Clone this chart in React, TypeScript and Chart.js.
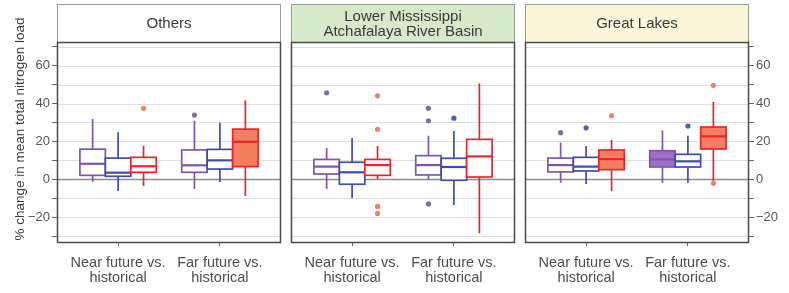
import React, { useEffect, useRef } from "react";
import { Chart, registerables } from "chart.js";

Chart.register(...registerables);

// ---------- data ----------
const panelTitles = [["Others"], ["Lower Mississippi", "Atchafalaya River Basin"], ["Great Lakes"]];
const periodLabels = [["Near future vs.", "historical"], ["Far future vs.", "historical"]];
const seriesNames = ["Series 1", "Series 2", "Series 3"];
const yTickValues = [-30, -20, -10, 0, 10, 20, 30, 40, 50, 60, 70];
const yLabelledValues = [-20, 0, 20, 40, 60];
const yTitle = "% change in mean total nitrogen load";

// [lower whisker, q1, median, q3, upper whisker] for [near, far]
const othersPurple = [[-1.3, 2.1, 8.2, 15.9, 31.8], [-5.1, 3.7, 7.4, 15.5, 30.9]];
const othersBlue = [[-6.2, 1.6, 3.5, 11.2, 24.8], [-1.4, 5.4, 10.0, 15.8, 29.9]];
const othersRed = [[-3.5, 3.7, 6.9, 11.6, 17.7], [-8.8, 6.7, 19.8, 26.5, 41.8]];
const lmarbPurple = [[-5.1, 2.8, 6.7, 10.5, 16.5], [-0.4, 2.3, 7.5, 12.5, 23.0]];
const lmarbBlue = [[-9.9, -2.6, 3.7, 9.0, 21.8], [-13.6, -0.5, 6.5, 11.1, 25.5]];
const lmarbRed = [[0.2, 2.1, 7.5, 10.5, 17.6], [-28.5, 1.2, 12.1, 21.1, 50.6]];
const greatLakesPurple = [[-1.8, 3.9, 7.5, 11.2, 19.3], [-1.8, 6.5, 10.5, 15.1, 25.8]];
const greatLakesBlue = [[-2.5, 4.4, 6.7, 11.6, 17.6], [-1.8, 6.5, 9.5, 13.2, 23.0]];
const greatLakesRed = [[-6.2, 5.1, 10.7, 15.5, 20.7], [-1.3, 16.0, 22.7, 27.6, 40.8]];

// outliers for [near, far]
const othersPurpleOut = [[], [33.9]];
const othersBlueOut = [[], []];
const othersRedOut = [[37.5], []];
const lmarbPurpleOut = [[45.7], [37.5, 30.9, -13.0]];
const lmarbBlueOut = [[], [32.3]];
const lmarbRedOut = [[44.1, 26.4, -14.3, -18.0], []];
const greatLakesPurpleOut = [[24.6], []];
const greatLakesBlueOut = [[27.2], [28.1]];
const greatLakesRedOut = [[33.6], [49.6, -2.1]];

const panelStats = [
  [othersPurple, othersBlue, othersRed],
  [lmarbPurple, lmarbBlue, lmarbRed],
  [greatLakesPurple, greatLakesBlue, greatLakesRed],
];
const panelOutliers = [
  [othersPurpleOut, othersBlueOut, othersRedOut],
  [lmarbPurpleOut, lmarbBlueOut, lmarbRedOut],
  [greatLakesPurpleOut, greatLakesBlueOut, greatLakesRedOut],
];

// ---------- style ----------
const FONT = "'Liberation Sans', Arial, Helvetica, sans-serif";
const strokeColors = ["#7e56ae", "#3d4da9", "#e8262b"];
const fillColors = ["#9d70c6", "#6f7cc4", "#f47e5f"];
const outlierColors = ["#8468a8", "#5060aa", "#f0816b"];
const filledBoxes = ["0-2-1", "2-2-0", "2-0-1", "2-2-1"]; // panel-series-period
const headerFills = ["#ffffff", "#d6e9c9", "#fbf7db"];
const panelSpan = 2.2;
const panelGap = 0.0982;
const xStart = 0.4;
const dodge = 0.25;
const boxWidth = 0.25;
const headerTop = 4;

const panelStart = (k: number) => xStart + k * (panelSpan + panelGap);
const xFor = (k: number, p: number, s: number) => panelStart(k) + 0.6 + p + (s - 1) * dodge;
const groupCenters: number[] = [];
panelTitles.forEach((_, k) => periodLabels.forEach((__, p) => groupCenters.push(xFor(k, p, 1))));

const fmt = (v: number) => (v < 0 ? "\u2212" + Math.abs(v) : String(v));

const facetPlugin = {
  id: "facetBoxes",
  beforeDatasetsDraw(chart: any) {
    const { ctx, chartArea } = chart;
    const x = chart.scales.x;
    const y = chart.scales.y;
    const top = chartArea.top;
    const bottom = chartArea.bottom;
    ctx.save();
    panelTitles.forEach((title, k) => {
      const left = Math.round(x.getPixelForValue(panelStart(k)));
      const right = Math.round(x.getPixelForValue(panelStart(k) + panelSpan));
      // header strip
      ctx.fillStyle = headerFills[k];
      ctx.fillRect(left, headerTop, right - left, top - headerTop);
      ctx.strokeStyle = "#9a9a9a";
      ctx.lineWidth = 1;
      ctx.strokeRect(left + 0.5, headerTop + 0.5, right - left - 1, top - headerTop);
      ctx.fillStyle = "#3a3a3a";
      ctx.font = `15px ${FONT}`;
      ctx.textAlign = "center";
      ctx.textBaseline = "middle";
      const cx = (left + right) / 2;
      const cy = (headerTop + top) / 2 + 1;
      const lh = 15;
      title.forEach((line, i) => {
        ctx.fillText(line, cx, cy + (i - (title.length - 1) / 2) * lh);
      });
      // panel background + grid
      ctx.fillStyle = "#ffffff";
      ctx.fillRect(left, top, right - left, bottom - top);
      yTickValues.forEach((v) => {
        const py = Math.round(y.getPixelForValue(v)) + 0.5;
        ctx.beginPath();
        ctx.moveTo(left, py);
        ctx.lineTo(right, py);
        ctx.strokeStyle = v === 0 ? "#8c8c8c" : "#dedede";
        ctx.lineWidth = v === 0 ? 1.6 : 1;
        ctx.stroke();
      });
      // boxes
      panelStats[k].forEach((stats, s) => {
        stats.forEach((st, p) => {
          const xc = x.getPixelForValue(xFor(k, p, s));
          const xl = x.getPixelForValue(xFor(k, p, s) - boxWidth / 2);
          const xr = x.getPixelForValue(xFor(k, p, s) + boxWidth / 2);
          const [lo, q1, med, q3, hi] = st.map((v) => y.getPixelForValue(v));
          ctx.strokeStyle = strokeColors[s];
          ctx.lineWidth = 1.7;
          ctx.beginPath();
          ctx.moveTo(xc, lo);
          ctx.lineTo(xc, q1);
          ctx.moveTo(xc, q3);
          ctx.lineTo(xc, hi);
          ctx.stroke();
          const filled = filledBoxes.includes(`${k}-${s}-${p}`);
          ctx.fillStyle = filled ? fillColors[s] : "#ffffff";
          ctx.fillRect(xl, q3, xr - xl, q1 - q3);
          ctx.strokeRect(xl, q3, xr - xl, q1 - q3);
          ctx.lineWidth = 2.2;
          ctx.beginPath();
          ctx.moveTo(xl, med);
          ctx.lineTo(xr, med);
          ctx.stroke();
        });
      });
    });
    ctx.restore();
  },
  afterDatasetsDraw(chart: any) {
    const { ctx, chartArea } = chart;
    const x = chart.scales.x;
    ctx.save();
    panelTitles.forEach((_, k) => {
      const left = Math.round(x.getPixelForValue(panelStart(k)));
      const right = Math.round(x.getPixelForValue(panelStart(k) + panelSpan));
      ctx.strokeStyle = "#4a4a4a";
      ctx.lineWidth = 1.5;
      ctx.strokeRect(left + 0.5, chartArea.top + 0.5, right - left - 1, chartArea.bottom - chartArea.top);
    });
    // y axis title
    ctx.translate(20, 129);
    ctx.rotate(-Math.PI / 2);
    ctx.fillStyle = "#3a3a3a";
    ctx.font = `13.5px ${FONT}`;
    ctx.textAlign = "center";
    ctx.textBaseline = "middle";
    ctx.fillText(yTitle, 0, 0);
    ctx.restore();
  },
};

const yAxis = (position: "left" | "right", width: number) => ({
  type: "linear" as const,
  position,
  min: -33.1,
  max: 72.5,
  afterBuildTicks: (s: any) => {
    s.ticks = yTickValues.map((v) => ({ value: v }));
  },
  afterFit: (s: any) => {
    s.width = width;
  },
  ticks: {
    callback: (v: any) => (yLabelledValues.includes(Number(v)) ? fmt(Number(v)) : ""),
    font: { size: 13, family: FONT },
    color: "#555555",
    padding: 2,
    autoSkip: false,
  },
  grid: { drawOnChartArea: false, drawTicks: true, tickLength: 5, color: "#666666" },
  border: { display: false },
});

export default function App() {
  const ref = useRef<HTMLCanvasElement>(null);
  useEffect(() => {
    const datasets = seriesNames.map((name, s) => {
      const pts: { x: number; y: number }[] = [];
      panelOutliers.forEach((series, k) =>
        series[s].forEach((vals, p) => vals.forEach((v) => pts.push({ x: xFor(k, p, s), y: v })))
      );
      return {
        type: "scatter" as const,
        label: name,
        data: pts,
        pointRadius: 2.6,
        pointBorderWidth: 0,
        pointBackgroundColor: outlierColors[s],
        pointHoverRadius: 2.6,
      };
    });
    const chart = new Chart(ref.current as HTMLCanvasElement, {
      type: "scatter",
      data: { datasets },
      options: {
        animation: false,
        responsive: false,
        devicePixelRatio: 1,
        layout: { padding: { top: 42, left: 0, right: 0, bottom: 0 } },
        plugins: { legend: { display: false }, tooltip: { enabled: false } },
        scales: {
          x: {
            type: "linear",
            min: xStart,
            max: panelStart(2) + panelSpan,
            afterBuildTicks: (s: any) => {
              s.ticks = groupCenters.map((v) => ({ value: v }));
            },
            afterFit: (s: any) => {
              s.height = 51;
            },
            ticks: {
              callback: (_v: any, i: number) => periodLabels[i % 2],
              font: { size: 14.5, family: FONT, lineHeight: 1.05 },
              color: "#4d4d4d",
              autoSkip: false,
              maxRotation: 0,
              minRotation: 0,
              padding: 9,
            },
            grid: { drawOnChartArea: false, drawTicks: true, tickLength: 4, color: "#666666" },
            border: { display: false },
          },
          y: yAxis("left", 57),
          y2: yAxis("right", 40),
        },
      },
      plugins: [facetPlugin],
    } as any);
    return () => chart.destroy();
  }, []);
  return (
    <div style={{ position: "absolute", left: 0, top: 0, width: 789, height: 293, background: "#ffffff" }}>
      <canvas ref={ref} width={789} height={293} style={{ display: "block", width: 789, height: 293 }} />
    </div>
  );
}
